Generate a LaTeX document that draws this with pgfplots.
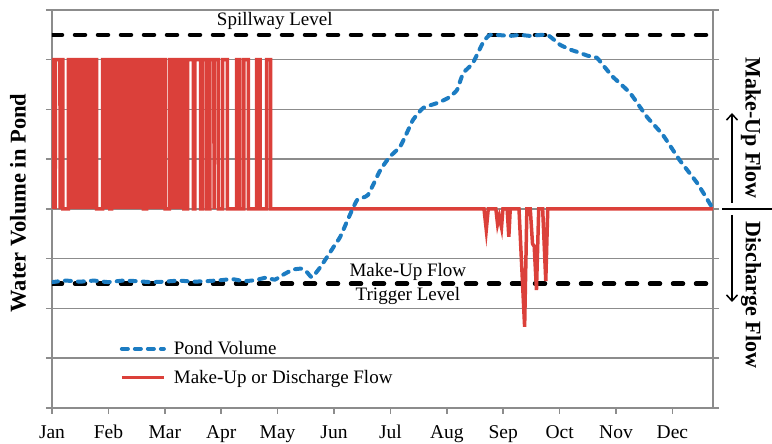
\documentclass[border=0pt]{standalone}
\usepackage{pgfplots}
\pgfplotsset{compat=1.18}
\usepackage{fontspec}
\setmainfont{Liberation Serif}
\usetikzlibrary{arrows.meta}
\definecolor{gridgray}{RGB}{140,140,140}
\definecolor{pondblue}{RGB}{28,124,194}
\definecolor{flowred}{RGB}{219,64,58}
\begin{document}
\begin{tikzpicture}[font=\fontsize{19}{22}\selectfont]
\useasboundingbox (0,0) rectangle (772pt,444pt);
\begin{axis}[
  at={(52pt,36pt)}, anchor=south west,
  scale only axis, width=661pt, height=398pt,
  xmin=0, xmax=11.72, ymin=-4, ymax=4,
  xtick={0,1,2,3,4,5,6,7,8,9,10,11},
  xticklabels={Jan,Feb,Mar,Apr,May,Jun,Jul,Aug,Sep,Oct,Nov,Dec},
  ytick={-4,-3,-2,-1,0,1,2,3,4}, yticklabels={},
  xtick pos=bottom, ytick pos=both,
  ymajorgrids, grid style={line width=1.5pt, color=gridgray},
  axis line style={line width=2pt, color=gridgray},
  tick style={line width=1.5pt, color=gridgray},
  tick align=outside, major tick length=6pt,
  xticklabel style={font=\fontsize{19.5}{22}\selectfont, text height=14pt, text depth=4pt, yshift=-7pt},
  reverse legend,
  legend cell align=left,
  legend style={at={(axis cs:1.2,-2.62)}, anchor=north west, draw=none, fill=none,
    inner sep=0pt, row sep=10pt, font=\fontsize{19}{22}\selectfont},
  legend image code/.code={\draw[#1] (0pt,0pt) -- (42pt,0pt);},
]
% reference levels
\addplot[forget plot, black, line width=4.5pt, line cap=round, dash pattern=on 10pt off 13pt]
  coordinates {(0,3.5)(11.72,3.5)};
\addplot[forget plot, black, line width=4.5pt, line cap=round, dash pattern=on 10pt off 13pt]
  coordinates {(0,-1.5)(11.72,-1.5)};
% make-up / discharge flow
\addplot[flowred, line width=3.5pt] coordinates {
(0,0)(0,3)(0.05,3)(0.056,0)(0.062,3)(0.14,3)(0.146,0)(0.152,3)(0.195,3)(0.195,0)
(0.289,0)(0.289,3)
(0.337,3)(0.343,0)(0.349,3)
(0.390,3)(0.396,0)(0.402,3)
(0.443,3)(0.449,0)(0.455,3)
(0.496,3)(0.502,0)(0.508,3)
(0.550,3)(0.556,0)(0.562,3)
(0.603,3)(0.609,0)(0.615,3)
(0.656,3)(0.662,0)(0.668,3)
(0.709,3)(0.715,0)(0.721,3)
(0.762,3)(0.768,0)(0.774,3)
(0.793,3)(0.793,0)
(0.899,0)(0.899,3)(0.955,3)(0.961,0)(0.967,3)(1.028,3)(1.028,0)(1.059,0)(1.059,3)
(1.099,3)(1.105,0)(1.111,3)
(1.152,3)(1.158,0)(1.164,3)
(1.206,3)(1.212,0)(1.218,3)
(1.259,3)(1.265,0)(1.271,3)
(1.312,3)(1.318,0)(1.324,3)
(1.365,3)(1.371,0)(1.377,3)
(1.418,3)(1.424,0)(1.430,3)
(1.472,3)(1.478,0)(1.484,3)
(1.525,3)(1.531,0)(1.537,3)
(1.578,3)(1.584,0)(1.590,3)
(1.619,3)(1.619,0)
(1.679,0)(1.679,3)
(1.720,3)(1.726,0)(1.732,3)
(1.773,3)(1.779,0)(1.785,3)
(1.826,3)(1.832,0)(1.838,3)
(1.879,3)(1.885,0)(1.891,3)
(1.933,3)(1.939,0)(1.945,3)
(2.004,3)(2.004,0)
(2.080,0)(2.080,3)
(2.128,3)(2.134,0)(2.140,3)
(2.181,3)(2.187,0)(2.193,3)
(2.234,3)(2.240,0)(2.246,3)
(2.287,3)(2.293,0)(2.299,3)
(2.340,3)(2.340,0)
(2.406,0)(2.406,3)(2.505,3)(2.505,0)
(2.535,0)(2.535,3)(2.637,3)(2.637,0)
(2.672,0)(2.672,3)(2.743,3)(2.743,0)
(2.801,0)(2.801,3)(2.869,3)(2.875,0)(2.881,3)(2.949,3)(2.949,0)
(3.027,0)(3.027,3)(3.108,3)(3.108,0)
(3.275,0)(3.275,3)(3.333,3)(3.333,0)
(3.404,0)(3.404,3)(3.481,3)(3.481,0)
(3.629,0)(3.629,3)(3.688,3)(3.688,0)
(3.807,0)(3.807,3)(3.878,3)(3.878,0)
(7.66,0)(7.70,-0.42)(7.735,0)
(7.87,0)(7.90,-0.30)(7.93,-0.15)(7.97,-0.37)(7.995,0)
(8.07,0)(8.10,-0.56)(8.125,0)
(8.28,0)(8.38,-2.37)(8.42,0)
(8.48,0)(8.52,-0.70)(8.55,-0.75)(8.59,-1.63)(8.63,0)
(8.70,0)(8.755,-1.45)(8.79,0)
(11.72,0)
};
\addlegendentry{\hspace{6pt}Make-Up or Discharge Flow}
% pond volume
\addplot[pondblue, line width=4pt, line cap=round, dash pattern=on 6pt off 7pt, smooth, tension=0.3] coordinates {
(0,-1.47)(0.25,-1.44)(0.5,-1.46)(0.75,-1.44)(1.0,-1.47)(1.25,-1.44)(1.5,-1.45)
(1.75,-1.47)(2.0,-1.46)(2.25,-1.44)(2.5,-1.46)(2.75,-1.45)(3.0,-1.43)(3.2,-1.41)
(3.4,-1.45)(3.6,-1.43)(3.8,-1.38)(3.95,-1.42)(4.1,-1.32)(4.27,-1.22)(4.42,-1.20)
(4.52,-1.27)(4.61,-1.37)(4.75,-1.18)(4.88,-0.96)(5.0,-0.75)(5.11,-0.56)(5.25,-0.20)
(5.41,0.18)(5.6,0.28)(5.82,0.78)(5.99,1.05)(6.17,1.25)(6.3,1.55)(6.4,1.79)
(6.58,2.03)(6.83,2.13)(7.02,2.23)(7.18,2.39)(7.29,2.73)(7.46,2.93)(7.64,3.34)
(7.77,3.50)(8.12,3.48)(8.3,3.50)(8.48,3.48)(8.78,3.50)(9.01,3.30)(9.2,3.20)
(9.36,3.14)(9.5,3.08)(9.66,3.04)(9.8,2.85)(9.95,2.65)(10.25,2.33)(10.55,1.85)
(10.83,1.49)(11.13,0.98)(11.44,0.52)(11.70,0.04)
};
\addlegendentry{\hspace{6pt}Pond Volume}
\node at (axis cs:3.95,3.78) {Spillway Level};
\node at (axis cs:6.31,-1.27) {Make-Up Flow};
\node at (axis cs:6.31,-1.75) {Trigger Level};
\end{axis}
\node[rotate=90, font=\bfseries\fontsize{22.5}{26}\selectfont] at (18pt,241pt) {Water Volume in Pond};
\node[rotate=-90, font=\bfseries\fontsize{22}{26}\selectfont] at (751pt,316pt) {Make-Up Flow};
\node[rotate=-90, font=\bfseries\fontsize{22}{26}\selectfont] at (751pt,149pt) {Discharge Flow};
\draw[line width=1.5pt] (722pt,235pt) -- (772pt,235pt);
\draw[line width=1.5pt, -{Straight Barb[length=6pt,width=11pt]}] (732pt,241pt) -- (732pt,331pt);
\draw[line width=1.5pt, -{Straight Barb[length=6pt,width=11pt]}] (732pt,229pt) -- (732pt,142pt);
\end{tikzpicture}
\end{document}
